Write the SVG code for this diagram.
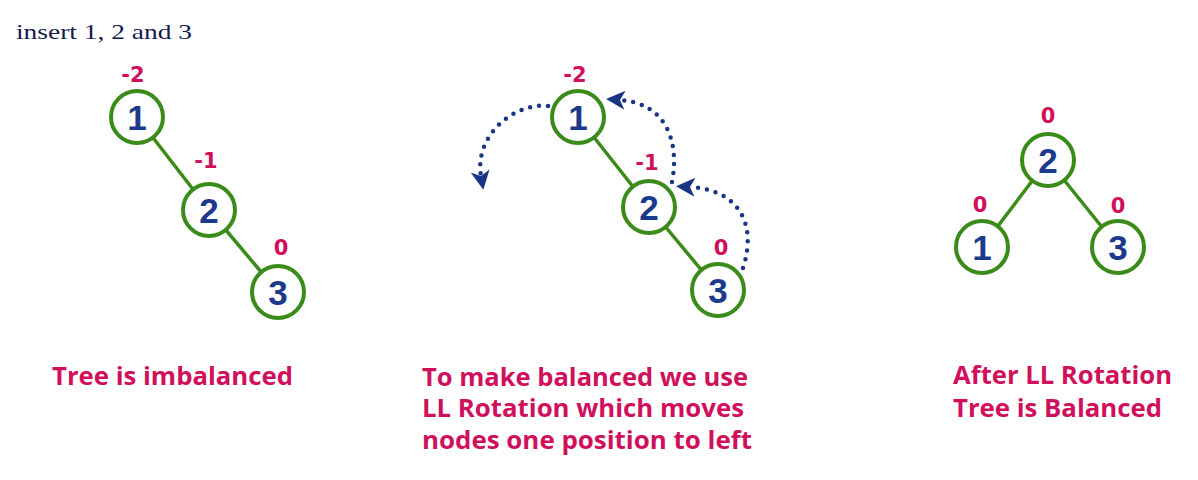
<svg xmlns="http://www.w3.org/2000/svg" width="1198" height="480" viewBox="0 0 1198 480">
<style>
.node circle{fill:#fff;stroke:#3b8b1a;stroke-width:4}
.node text{font-family:"Liberation Sans",Arial,sans-serif;font-weight:bold;font-size:35px;fill:#1b3a8c;text-anchor:middle}
.bf{font-family:"DejaVu Sans",Verdana,sans-serif;font-weight:bold;font-size:21px;fill:#d0105c;text-anchor:middle}
.cap{font-family:"Open Sans","DejaVu Sans",sans-serif;font-weight:700;font-size:25px;fill:#d0105c}
.edge{stroke:#3b8b1a;stroke-width:3.5;fill:none}
.dots{stroke:#1b3585;stroke-width:4.5;stroke-linecap:round;stroke-dasharray:0 9;fill:none}
.title{font-family:"Liberation Serif","Times New Roman",serif;font-size:22px;fill:#161a50}
</style>
<defs>
<marker id="ah" markerUnits="userSpaceOnUse" markerWidth="19" markerHeight="19" viewBox="0 0 19 19" refX="5" refY="9.5" orient="auto">
<path d="M19,9.5 L0,0 L5,9.5 L0,19 Z" fill="#1b3585"/>
</marker>
</defs>
<rect width="1198" height="480" fill="#fff"/>
<text class="title" x="16" y="39" textLength="176" lengthAdjust="spacingAndGlyphs">insert 1, 2 and 3</text>

<g id="connectors">
<line class="edge" x1="137" y1="117" x2="209" y2="210"/>
<line class="edge" x1="209" y1="210" x2="278" y2="292"/>
<line class="edge" x1="578" y1="117" x2="649" y2="207"/>
<line class="edge" x1="649" y1="207" x2="718" y2="290"/>
<line class="edge" x1="1048" y1="160" x2="982" y2="247"/>
<line class="edge" x1="1048" y1="160" x2="1118" y2="247"/>
<path class="dots" d="M548,106 C515,102 474,135 481,176" marker-end="url(#ah)"/>
<path class="dots" d="M672,182 C680,140 665,103 620,100" marker-end="url(#ah)"/>
<path class="dots" d="M743,268 C757,225 740,190 690,187" marker-end="url(#ah)"/>
</g>

<g id="t1n1" class="node"><circle cx="137" cy="117" r="26"/><text x="137" y="130">1</text></g>
<g id="t1n2" class="node"><circle cx="209" cy="210" r="26"/><text x="209" y="223">2</text></g>
<g id="t1n3" class="node"><circle cx="278" cy="292" r="26"/><text x="278" y="305">3</text></g>
<g id="t2n1" class="node"><circle cx="578" cy="117" r="26"/><text x="578" y="130">1</text></g>
<g id="t2n2" class="node"><circle cx="649" cy="207" r="26"/><text x="649" y="220">2</text></g>
<g id="t2n3" class="node"><circle cx="718" cy="290" r="26"/><text x="718" y="303">3</text></g>
<g id="t3n2" class="node"><circle cx="1048" cy="160" r="26"/><text x="1048" y="173">2</text></g>
<g id="t3n1" class="node"><circle cx="982" cy="247" r="26"/><text x="982" y="260">1</text></g>
<g id="t3n3" class="node"><circle cx="1118" cy="247" r="26"/><text x="1118" y="260">3</text></g>

<g id="balance">
<text class="bf" x="133" y="82">-2</text>
<text class="bf" x="206" y="168">-1</text>
<text class="bf" x="281" y="255">0</text>
<text class="bf" x="575" y="82">-2</text>
<text class="bf" x="647" y="170">-1</text>
<text class="bf" x="721" y="255">0</text>
<text class="bf" x="1048" y="123">0</text>
<text class="bf" x="980" y="212">0</text>
<text class="bf" x="1118" y="213">0</text>
</g>

<g id="captions">
<text class="cap" x="52" y="385" textLength="241" lengthAdjust="spacingAndGlyphs">Tree is imbalanced</text>
<text class="cap" x="422" y="386" textLength="326" lengthAdjust="spacingAndGlyphs">To make balanced we use</text>
<text class="cap" x="422" y="417" textLength="322" lengthAdjust="spacingAndGlyphs">LL Rotation which moves</text>
<text class="cap" x="422" y="449" textLength="330" lengthAdjust="spacingAndGlyphs">nodes one position to left</text>
<text class="cap" x="953" y="384" textLength="219" lengthAdjust="spacingAndGlyphs">After LL Rotation</text>
<text class="cap" x="953" y="417" textLength="209" lengthAdjust="spacingAndGlyphs">Tree is Balanced</text>
</g>
</svg>
